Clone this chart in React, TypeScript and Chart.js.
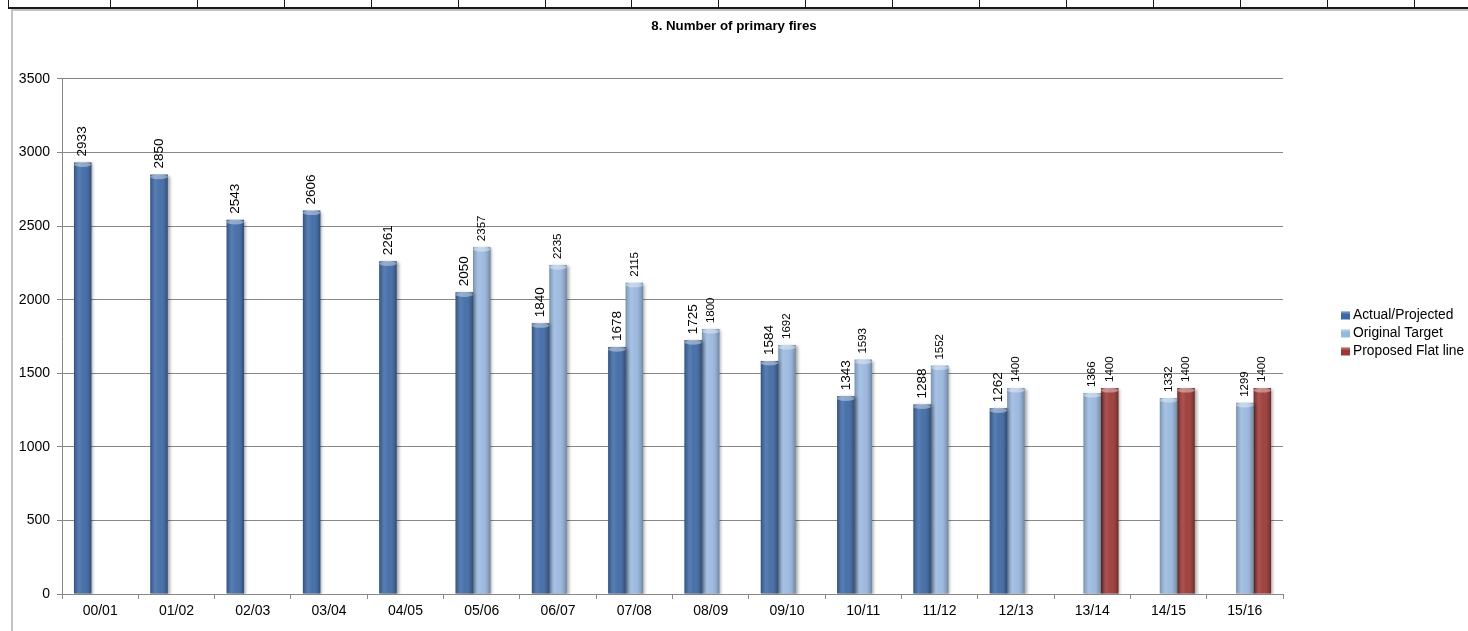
import React, { useEffect, useRef } from "react";
import { Chart, registerables } from "chart.js";

Chart.register(...registerables);

const categories = ["00/01", "01/02", "02/03", "03/04", "04/05", "05/06", "06/07", "07/08", "08/09", "09/10", "10/11", "11/12", "12/13", "13/14", "14/15", "15/16"];
const actualProjected = [2933, 2850, 2543, 2606, 2261, 2050, 1840, 1678, 1725, 1584, 1343, 1288, 1262, null, null, null];
const originalTarget = [null, null, null, null, null, 2357, 2235, 2115, 1800, 1692, 1593, 1552, 1400, 1366, 1332, 1299];
const proposedFlatLine = [null, null, null, null, null, null, null, null, null, null, null, null, null, 1400, 1400, 1400];
const seriesNames = ["Actual/Projected", "Original Target", "Proposed Flat line"];
const seriesColors = ["#3d68a5", "#98b7de", "#9b3734"];
const labelFontSizes = [13.5, 11.5, 11.5];
const titleText = "8. Number of primary fires";
const yMin = 0;
const yMax = 3500;
const yStep = 500;

const FONT = '"Liberation Sans", Arial, Helvetica, sans-serif';
const GRID = "#878787";

const sheetPlugin = {
  id: "sheet",
  beforeDraw(chart: any) {
    const { ctx, width, height } = chart;
    ctx.save();
    ctx.fillStyle = "#ffffff";
    ctx.fillRect(0, 0, width, height);
    // spreadsheet cell strip above the chart object
    ctx.fillStyle = "#1a1a1a";
    ctx.fillRect(8, 7, width - 8, 2);
    ctx.fillRect(8, 0, 1, 8);
    for (let k = 0; k < 16; k++) {
      const x = Math.round(110 + k * 86.9);
      ctx.fillRect(x, 0, 1, 8);
    }
    // chart object border
    ctx.fillStyle = "#c3c3c3";
    ctx.fillRect(11, 9, width - 11, 2);
    ctx.fillRect(11, 9, 2, height - 9);
    ctx.restore();
  },
};

const barLookPlugin = {
  id: "barLook",
  beforeDatasetsDraw(chart: any) {
    const ctx = chart.ctx;
    ctx.save();
    ctx.shadowColor = "rgba(0,0,0,0.35)";
    ctx.shadowBlur = 3;
    ctx.shadowOffsetX = 2;
    ctx.shadowOffsetY = 1;
  },
  afterDatasetsDraw(chart: any) {
    const ctx = chart.ctx;
    ctx.restore();
    chart.data.datasets.forEach((ds: any, di: number) => {
      const meta = chart.getDatasetMeta(di);
      meta.data.forEach((bar: any, i: number) => {
        const v = ds.data[i];
        if (v === null || v === undefined) return;
        const { x, y, base, width } = bar.getProps(["x", "y", "base", "width"], true);
        const left = x - width / 2;
        const g = ctx.createLinearGradient(left, 0, left + width, 0);
        g.addColorStop(0, "rgba(0,0,0,0.22)");
        g.addColorStop(0.3, "rgba(255,255,255,0.14)");
        g.addColorStop(0.55, "rgba(255,255,255,0.06)");
        g.addColorStop(1, "rgba(0,0,0,0.28)");
        ctx.save();
        ctx.fillStyle = g;
        ctx.fillRect(left, y, width, base - y);
        ctx.beginPath();
        ctx.ellipse(x, y + 2.2, width / 2, 2.4, 0, 0, Math.PI * 2);
        ctx.fillStyle = "rgba(255,255,255,0.38)";
        ctx.fill();
        ctx.restore();
      });
    });
    // value labels, rotated
    chart.data.datasets.forEach((ds: any, di: number) => {
      const meta = chart.getDatasetMeta(di);
      meta.data.forEach((bar: any, i: number) => {
        const v = ds.data[i];
        if (v === null || v === undefined) return;
        const { x, y } = bar.getProps(["x", "y"], true);
        ctx.save();
        ctx.translate(x, y - 6);
        ctx.rotate(-Math.PI / 2);
        ctx.font = `${labelFontSizes[di]}px ${FONT}`;
        ctx.fillStyle = "#000";
        ctx.textAlign = "left";
        ctx.textBaseline = "middle";
        ctx.fillText(String(v), 0, 0);
        ctx.restore();
      });
    });
  },
};

const legendPlugin = {
  id: "sideLegend",
  afterDraw(chart: any) {
    const { ctx, chartArea } = chart;
    const n = chart.data.datasets.length;
    const rowH = 18;
    const midY = (chartArea.top + chartArea.bottom) / 2 - 3;
    const startY = midY - ((n - 1) * rowH) / 2;
    const bx = chartArea.right + 58;
    ctx.save();
    ctx.font = `13.8px ${FONT}`;
    ctx.textBaseline = "middle";
    ctx.textAlign = "left";
    chart.data.datasets.forEach((ds: any, i: number) => {
      const cy = startY + i * rowH;
      ctx.fillStyle = ds.backgroundColor;
      ctx.fillRect(bx, cy - 4, 9, 8);
      ctx.fillStyle = "rgba(255,255,255,0.25)";
      ctx.fillRect(bx, cy - 4, 9, 2);
      ctx.fillStyle = "#000";
      ctx.fillText(ds.label, bx + 12, cy);
    });
    ctx.restore();
  },
};

export default function App() {
  const ref = useRef<HTMLCanvasElement | null>(null);
  useEffect(() => {
    if (!ref.current) return;
    const datasets = [actualProjected, originalTarget, proposedFlatLine].map((d, i) => ({
      label: seriesNames[i],
      data: d,
      backgroundColor: seriesColors[i],
      borderWidth: 0,
      categoryPercentage: 0.687,
      barPercentage: 1.0,
      yAxisID: "y",
    }));
    const chart = new Chart(ref.current, {
      type: "bar",
      data: { labels: categories, datasets },
      options: {
        responsive: false,
        animation: false,
        devicePixelRatio: 1,
        layout: { padding: { top: 10, left: 0, right: 0, bottom: 0 } },
        plugins: {
          legend: { display: false },
          tooltip: { enabled: false },
          title: {
            display: true,
            text: titleText,
            color: "#000",
            font: { family: FONT, size: 13.3, weight: "bold", lineHeight: 1.2 },
            padding: { top: 8, bottom: 45 },
          },
        },
        scales: {
          x: {
            grid: { display: true, drawOnChartArea: false, drawTicks: true, tickLength: 5, color: GRID, offset: true },
            border: { display: true, color: GRID, width: 1 },
            ticks: { color: "#000", font: { family: FONT, size: 14 }, padding: 4, maxRotation: 0, autoSkip: false },
            afterFit: (s: any) => { s.height = 37; },
          },
          y: {
            position: "left",
            min: yMin,
            max: yMax,
            grid: { color: GRID, tickLength: 5, drawTicks: true },
            border: { display: true, color: GRID, width: 1 },
            ticks: {
              stepSize: yStep,
              color: "#000",
              font: { family: FONT, size: 14 },
              padding: 7,
              callback: (v: any) => String(v),
            },
            afterFit: (s: any) => { s.width = 62; },
          },
          yRightSpace: {
            position: "right",
            display: true,
            grid: { display: false, drawTicks: false },
            border: { display: false },
            ticks: { display: false },
            afterFit: (s: any) => { s.width = 185; },
          },
        },
      } as any,
      plugins: [sheetPlugin, barLookPlugin, legendPlugin],
    });
    return () => chart.destroy();
  }, []);
  return (
    <div style={{ position: "absolute", left: 0, top: 0, width: 1468, height: 631, background: "#fff" }}>
      <canvas ref={ref} width={1468} height={631} style={{ display: "block" }} />
    </div>
  );
}
